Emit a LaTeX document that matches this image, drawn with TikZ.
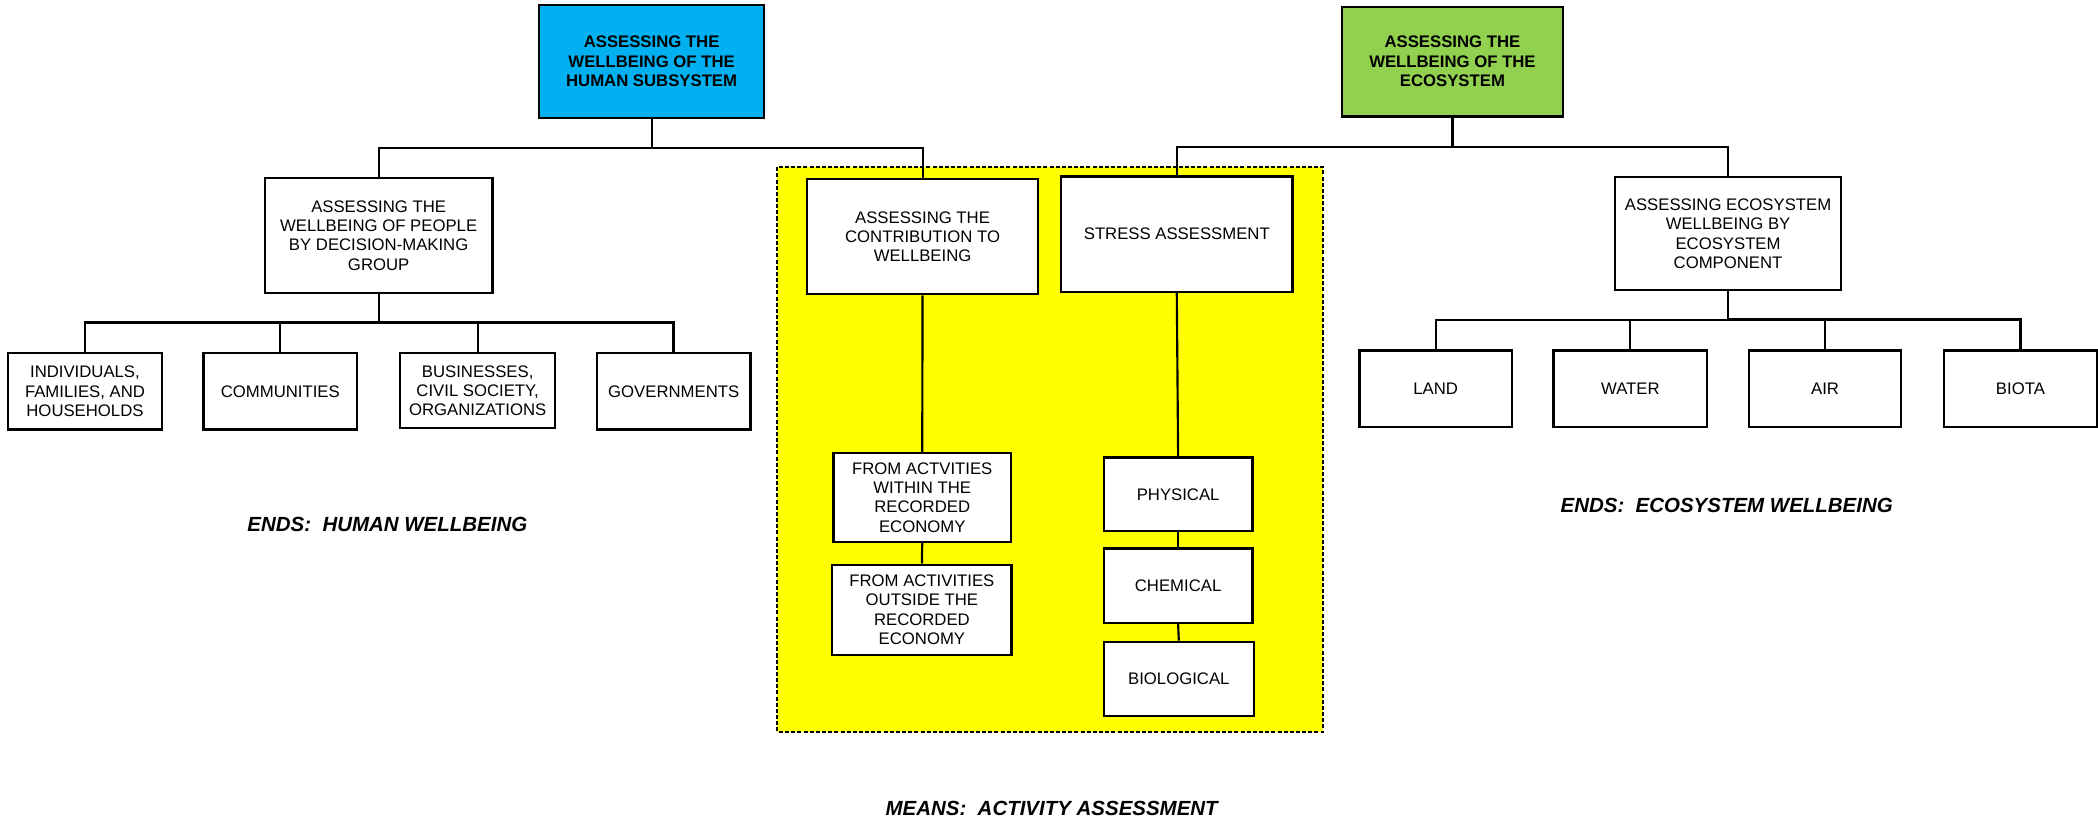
\documentclass[tikz,border=0pt]{standalone}
\usepackage{fontspec}
\setmainfont{Liberation Sans}
\definecolor{humblue}{HTML}{00B0F0}
\definecolor{ecogreen}{HTML}{92D050}
\definecolor{meansyellow}{HTML}{FFFF00}
\begin{document}
\begin{tikzpicture}[x=1pt,y=-1pt,
  bx/.style={draw=black, line width=1.7pt, fill=white, inner sep=0pt, align=center,
    font=\fontsize{12.5}{14.5}\selectfont},
  topbx/.style={bx, font=\fontsize{12.5}{14.5}\selectfont\bfseries},
  conn/.style={draw=black, line width=1.6pt},
  busr/.style={draw=black, line width=2.2pt},
  endlabel/.style={inner sep=0pt, anchor=base, font=\fontsize{15.3}{18}\selectfont\bfseries\itshape}
]
\useasboundingbox (0,0) rectangle (1568,612);
\fill[white] (0,0) rectangle (1568,612);

% means area
\draw[fill=meansyellow, draw=black, line width=1.5pt, dash pattern=on 3pt off 1.6pt] (581,125) rectangle (989,547);

% top boxes
\node[topbx, fill=humblue, minimum width=168pt, minimum height=84pt] (hum) at (487,46)
  {ASSESSING THE\\WELLBEING OF THE\\HUMAN SUBSYSTEM};
\node[topbx, fill=ecogreen, minimum width=165pt, minimum height=82pt] (eco) at (1085.5,46)
  {ASSESSING THE\\WELLBEING OF THE\\ECOSYSTEM};

% second level
\node[bx, minimum width=170pt, minimum height=86pt] (grp) at (283,176)
  {ASSESSING THE\\WELLBEING OF PEOPLE\\BY DECISION-MAKING\\GROUP};
\node[bx, minimum width=173pt, minimum height=86pt] (con) at (689.5,177)
  {ASSESSING THE\\CONTRIBUTION TO\\WELLBEING};
\node[bx, minimum width=173pt, minimum height=86pt] (str) at (879.5,175)
  {STRESS ASSESSMENT};
\node[bx, minimum width=169pt, minimum height=84.5pt] (ecc) at (1291.5,174.75)
  {ASSESSING ECOSYSTEM\\WELLBEING BY\\ECOSYSTEM\\COMPONENT};

% human groups
\node[bx, minimum width=115pt, minimum height=57pt] (ind) at (63.5,292.5)
  {INDIVIDUALS,\\FAMILIES, AND\\HOUSEHOLDS};
\node[bx, minimum width=115pt, minimum height=57pt] (com) at (209.5,292.5) {COMMUNITIES};
\node[bx, minimum width=116pt, minimum height=56pt] (bus) at (357,292) {BUSINESSES,\\CIVIL SOCIETY,\\ORGANIZATIONS};
\node[bx, minimum width=115pt, minimum height=57pt] (gov) at (503.5,292.5) {GOVERNMENTS};

% ecosystem components
\node[bx, minimum width=114pt, minimum height=57pt] (land) at (1073,290.5) {LAND};
\node[bx, minimum width=115pt, minimum height=57pt] (water) at (1218.5,290.5) {WATER};
\node[bx, minimum width=114pt, minimum height=57pt] (air) at (1364,290.5) {AIR};
\node[bx, minimum width=114pt, minimum height=57pt] (biota) at (1510,290.5) {BIOTA};

% means sub boxes
\node[bx, minimum width=132.5pt, minimum height=66.5pt] (within) at (689.25,371.75)
  {FROM ACTVITIES\\WITHIN THE\\RECORDED\\ECONOMY};
\node[bx, minimum width=134pt, minimum height=67.5pt] (outside) at (689,455.75)
  {FROM ACTIVITIES\\OUTSIDE THE\\RECORDED\\ECONOMY};
\node[bx, minimum width=111pt, minimum height=55pt] (phys) at (880.5,369.5) {PHYSICAL};
\node[bx, minimum width=111pt, minimum height=55.5pt] (chem) at (880.5,437.75) {CHEMICAL};
\node[bx, minimum width=112pt, minimum height=55.4pt] (bio) at (881,507.3) {BIOLOGICAL};

% bus coordinates
\coordinate (hb) at (487,110.5);
\coordinate (eb) at (1085.5,110);
\coordinate (gb) at (283,241);
\coordinate (cb) at (1291.5,239);

% connectors top
\draw[conn] (hum.south) -- (hb);
\draw[conn] (grp.north) |- (hb) -| (con.north);
\draw[conn] (eco.south) -- (eb);
\draw[conn] (str.north) |- (eb) -| (ecc.north);

% connectors human groups
\draw[conn] (grp.south) -- (gb);
\draw[conn] (ind.north) |- (gb);
\draw[conn] (com.north) -- (com.north |- gb);
\draw[busr] (gb) -| (gov.north);
\draw[conn] (bus.north) -- (bus.north |- gb);

% connectors ecosystem components
\draw[conn] (ecc.south) -- (cb);
\draw[conn] (land.north) |- (cb);
\draw[conn] (water.north) -- (water.north |- cb);
\draw[busr] (cb) -| (biota.north);
\draw[conn] (air.north) -- (air.north |- cb);

% means connectors
\draw[conn] (con.south) -- (within.north);
\draw[conn] (within.south) -- (outside.north);
\draw[conn] (str.south) -- (phys.north);
\draw[conn] (phys.south) -- (chem.north);
\draw[conn] (chem.south) -- (bio.north);

% labels
\node[endlabel] (endh) at (289.5,397.6) {ENDS:\ \ HUMAN WELLBEING};
\node[endlabel] (ende) at (1290.5,383) {ENDS:\ \ ECOSYSTEM WELLBEING};
\node[endlabel] (means) at (786,609.6) {MEANS:\ \ ACTIVITY ASSESSMENT};
\end{tikzpicture}
\end{document}
